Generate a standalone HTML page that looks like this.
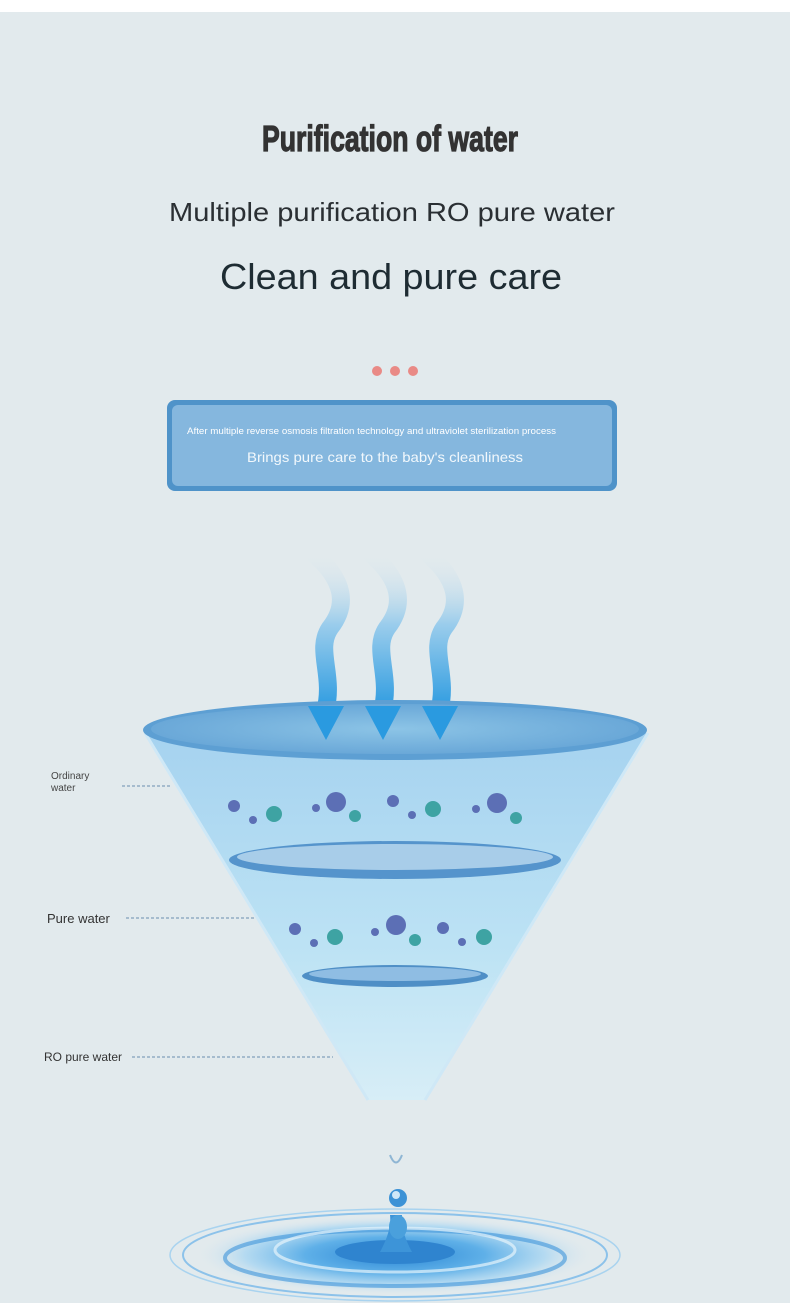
<!DOCTYPE html>
<html><head><meta charset="utf-8"><style>
html,body{margin:0;padding:0;background:#fff}
svg{display:block}
text{font-family:"Liberation Sans",sans-serif}
</style></head><body>
<svg width="790" height="1309" viewBox="0 0 790 1309" xmlns="http://www.w3.org/2000/svg">
<defs>
<linearGradient id="cone" x1="0" y1="0" x2="0" y2="1">
<stop offset="0" stop-color="#9fd0f0"/><stop offset="0.6" stop-color="#b9e2f5"/><stop offset="1" stop-color="#d6eef8"/>
</linearGradient>
<linearGradient id="arr" x1="0" y1="0" x2="0" y2="1">
<stop offset="0" stop-color="#e2eaed" stop-opacity="0"/><stop offset="0.45" stop-color="#9bcdec"/><stop offset="1" stop-color="#2a9ae0"/>
</linearGradient>
<radialGradient id="top" cx="0.5" cy="0.5" r="0.5">
<stop offset="0" stop-color="#8cc4e6"/><stop offset="1" stop-color="#6aa8d8"/>
</radialGradient>
<radialGradient id="pool" cx="0.5" cy="0.5" r="0.5">
<stop offset="0" stop-color="#2a86d4"/><stop offset="0.45" stop-color="#5fb0e8"/><stop offset="0.75" stop-color="#a9d6f2" stop-opacity="0.8"/><stop offset="1" stop-color="#e2eaed" stop-opacity="0"/>
</radialGradient>
</defs>
<rect x="0" y="12" width="790" height="1291" fill="#e2eaed"/>
<text x="390" y="151" text-anchor="middle" font-size="36" font-weight="bold" fill="#333" stroke="#333" stroke-width="1.2" textLength="256" lengthAdjust="spacingAndGlyphs" style="font-family:'Liberation Sans Narrow','Liberation Sans',sans-serif">Purification of water</text>
<text x="392" y="221" text-anchor="middle" font-size="26" fill="#2a2f33" textLength="446" lengthAdjust="spacingAndGlyphs">Multiple purification RO pure water</text>
<text x="391" y="289" text-anchor="middle" font-size="36" fill="#1e2c33" textLength="342" lengthAdjust="spacingAndGlyphs">Clean and pure care</text>
<circle cx="377" cy="371" r="5" fill="#e98a86"/><circle cx="395" cy="371" r="5" fill="#e98a86"/><circle cx="413" cy="371" r="5" fill="#e98a86"/>
<rect x="167" y="400" width="450" height="91" rx="8" fill="#4f93c9"/>
<rect x="172" y="405" width="440" height="81" rx="6" fill="#85b7de"/>
<text x="187" y="434" font-size="9" fill="#fff" textLength="369" lengthAdjust="spacingAndGlyphs">After multiple reverse osmosis filtration technology and ultraviolet sterilization process</text>
<text x="385" y="462" text-anchor="middle" font-size="14" fill="#f2f8fc" textLength="276" lengthAdjust="spacingAndGlyphs">Brings pure care to the baby's cleanliness</text>
<!-- arrows -->
<g fill="none" stroke="url(#arr)" stroke-width="18" stroke-linecap="round">
<path d="M312 552 C345 580,348 605,330 628 C315 650,335 675,325 712"/>
<path d="M369 552 C402 580,405 605,387 628 C372 650,392 675,382 712"/>
<path d="M426 552 C459 580,462 605,444 628 C429 650,449 675,439 712"/>
</g>
<!-- funnel -->
<path d="M145 733 L648 733 L425 1100 L368 1100 Z" fill="url(#cone)" opacity="0.9"/>
<path d="M145 733 L368 1100 M648 733 L425 1100" stroke="#cfe8f6" stroke-width="3"/>
<ellipse cx="395" cy="730" rx="252" ry="30" fill="#5d9fd3"/>
<ellipse cx="395" cy="729" rx="244" ry="25" fill="url(#top)"/>
<path d="M308 706 L344 706 L326 740 Z M365 706 L401 706 L383 740 Z M422 706 L458 706 L440 740 Z" fill="#2a9ae0"/>
<ellipse cx="395" cy="860" rx="166" ry="19" fill="#5594cc"/>
<ellipse cx="395" cy="857" rx="158" ry="13" fill="#a8cde9"/>
<ellipse cx="395" cy="976" rx="93" ry="11" fill="#4f8fc6"/>
<ellipse cx="395" cy="974" rx="86" ry="7" fill="#8fbde3"/>
<!-- germs -->
<g>
<circle cx="234" cy="806" r="6" fill="#5c6fb5"/><circle cx="274" cy="814" r="8" fill="#3ea3a3"/><circle cx="253" cy="820" r="4" fill="#5c6fb5"/>
<circle cx="316" cy="808" r="4" fill="#5c6fb5"/><circle cx="336" cy="802" r="10" fill="#5c6fb5"/><circle cx="355" cy="816" r="6" fill="#3ea3a3"/>
<circle cx="393" cy="801" r="6" fill="#5c6fb5"/><circle cx="412" cy="815" r="4" fill="#5c6fb5"/><circle cx="433" cy="809" r="8" fill="#3ea3a3"/>
<circle cx="476" cy="809" r="4" fill="#5c6fb5"/><circle cx="497" cy="803" r="10" fill="#5c6fb5"/><circle cx="516" cy="818" r="6" fill="#3ea3a3"/>
<circle cx="295" cy="929" r="6" fill="#5c6fb5"/><circle cx="314" cy="943" r="4" fill="#5c6fb5"/><circle cx="335" cy="937" r="8" fill="#3ea3a3"/>
<circle cx="375" cy="932" r="4" fill="#5c6fb5"/><circle cx="396" cy="925" r="10" fill="#5c6fb5"/><circle cx="415" cy="940" r="6" fill="#3ea3a3"/>
<circle cx="443" cy="928" r="6" fill="#5c6fb5"/><circle cx="462" cy="942" r="4" fill="#5c6fb5"/><circle cx="484" cy="937" r="8" fill="#3ea3a3"/>
</g>
<!-- labels -->
<text x="51" y="779" font-size="10" fill="#444">Ordinary</text>
<text x="51" y="791" font-size="10" fill="#444">water</text>
<line x1="122" y1="786" x2="172" y2="786" stroke="#6a8fb0" stroke-dasharray="3,2"/>
<text x="47" y="923" font-size="13" fill="#333">Pure water</text>
<line x1="126" y1="918" x2="254" y2="918" stroke="#6a8fb0" stroke-dasharray="3,2"/>
<text x="44" y="1061" font-size="12" fill="#333">RO pure water</text>
<line x1="132" y1="1057" x2="333" y2="1057" stroke="#6a8fb0" stroke-dasharray="3,2"/>
<!-- drop + ripple -->
<path d="M390 1155 Q396 1170 402 1155" fill="none" stroke="#8fb6d4" stroke-width="2"/>
<ellipse cx="395" cy="1255" rx="225" ry="46" fill="none" stroke="#a9d3ef" stroke-width="1.5"/>
<ellipse cx="395" cy="1255" rx="212" ry="42" fill="none" stroke="#8cc2ea" stroke-width="2"/>
<ellipse cx="395" cy="1255" rx="200" ry="40" fill="url(#pool)"/>
<ellipse cx="395" cy="1258" rx="170" ry="28" fill="none" stroke="#3e95da" stroke-width="4" opacity="0.6"/>
<ellipse cx="395" cy="1250" rx="120" ry="22" fill="none" stroke="#e6f3fb" stroke-width="3" opacity="0.7"/>
<ellipse cx="395" cy="1252" rx="60" ry="12" fill="#2f84cf"/>
<path d="M380 1252 Q392 1230 390 1215 L402 1215 Q400 1230 412 1252 Z" fill="#3d94d8"/>
<ellipse cx="398" cy="1227" rx="9" ry="12" fill="#4aa0dc"/>
<circle cx="398" cy="1198" r="9" fill="#3c92d6"/><circle cx="396" cy="1195" r="4" fill="#cfe8f8"/>
<rect x="0" y="1303" width="790" height="6" fill="#fff"/>
</svg>
</body></html>
